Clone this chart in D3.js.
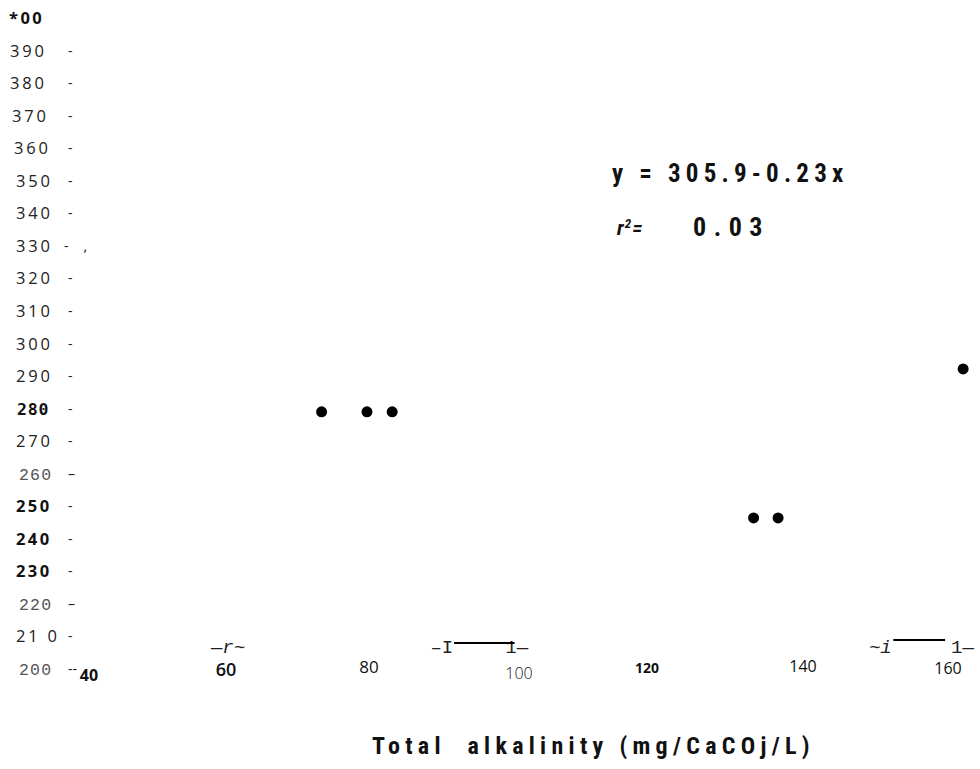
<!DOCTYPE html>
<html>
<head>
<meta charset="utf-8">
<script src="https://cdn.jsdelivr.net/npm/d3@7"></script>
<style>
  body { margin: 0; background: #fff; }
  svg { display: block; }
</style>
</head>
<body>
<svg id="chart" width="980" height="769"></svg>
<script>
// data
const alkalinity = [73, 79.3, 82.8, 133, 136.4, 162.1];
const colourIndex = [279, 279, 279, 246.4, 246.4, 292.2];

const yTickValues = [400, 390, 380, 370, 360, 350, 340, 330, 320, 310, 300,
  290, 280, 270, 260, 250, 240, 230, 220, 210, 200];
const yTickLabels = ['*00', '390', '380', '370', '360', '350', '340', '330', '320', '310', '300',
  '290', '280', '270', '260', '250', '240', '230', '220', '21\u00a00', '200'];
const yTickMarks = ['', '-', '-', '-', '-', '-', '-', '-\u00a0\u00a0\u00a0,', '-', '-', '-',
  '-', '-', '-', '–', '-', '-', '-', '–', '-', '--'];

const xTickValues = [40, 60, 80, 100, 120, 140, 160];
const xTickLabels = ['40', '60', '80', '100', '120', '140', '160'];

const fitLine = 'y\u00a0=\u00a0305.9-0.23x';
const fitR2 = '0.03';
const xTitle = 'Total\u00a0\u00a0alkalinity (mg/CaCOj/L)';

// scanning noise near the x axis
const noiseText = [
  { t: '—r~', x: 60 },
  { t: '–I', x: 89.7 },
  { t: '1—', x: 100.1 },
  { t: '~i', x: 150.6 },
  { t: '1—', x: 162 }
];
const noiseBars = [[91.4, 99.8], [152.4, 159.6]];

const svg = d3.select('#chart');

const x = d3.scaleLinear().domain([40, 160]).range([84, 948]);
const y = d3.scaleLinear().domain([200, 400]).range([669, 18]);

const sans = '"Open Sans", "Noto Sans", sans-serif';
const mono = '"DejaVu Sans Mono", monospace';
const thin = '"Liberation Mono", monospace';
const narrow = '"Liberation Sans Narrow", "Roboto Condensed", "Liberation Sans", sans-serif';

// per-label look of the y tick text (scan is inconsistent)
function yStyle(i) {
  const v = yTickValues[i];
  if (v === 260 || v === 220 || v === 200) return { f: thin, w: 400, c: '#555', dx: 19, ls: 1.2 };
  if (v === 280) return { f: mono, w: 700, c: '#111', dx: 17, ls: 0.8 };
  if (v === 250 || v === 240 || v === 230 || v === 400) return { f: sans, w: 700, c: '#111', dx: v === 400 ? 9 : 16, ls: 2.4 };
  const dx = v >= 380 ? 10 : v >= 370 ? 12 : v >= 360 ? 14 : 16;
  return { f: sans, w: 500, c: '#222', dx: dx, ls: 2.8 };
}

const yAxis = svg.append('g');
yAxis.selectAll('text.num')
  .data(yTickValues)
  .join('text')
  .attr('class', 'num')
  .attr('x', (d, i) => yStyle(i).dx)
  .attr('y', d => y(d) + 6)
  .attr('font-family', (d, i) => yStyle(i).f)
  .attr('font-weight', (d, i) => yStyle(i).w)
  .attr('fill', (d, i) => yStyle(i).c)
  .attr('letter-spacing', (d, i) => yStyle(i).ls)
  .attr('font-size', 16.5)
  .text((d, i) => yTickLabels[i]);

yAxis.selectAll('text.tick')
  .data(yTickValues)
  .join('text')
  .attr('class', 'tick')
  .attr('x', (d, i) => yTickValues[i] === 330 ? 64 : 68)
  .attr('y', d => y(d) + 5)
  .attr('font-family', sans)
  .attr('font-size', 14)
  .attr('letter-spacing', (d, i) => yTickMarks[i] === '--' ? 0 : 1)
  .attr('fill', '#222')
  .text((d, i) => yTickMarks[i]);

// x tick labels
const xSize = [16, 18, 17, 16, 14, 16, 16];
const xWeight = [700, 600, 400, 300, 700, 400, 400];
const xDy = [675, 670, 667, 673, 667, 666, 668];
const xNudge = [5, -2, -3, 3, -13, -1, 0];
svg.append('g').selectAll('text')
  .data(xTickValues)
  .join('text')
  .attr('x', (d, i) => x(d) + xNudge[i])
  .attr('y', (d, i) => xDy[i] + 6)
  .attr('text-anchor', 'middle')
  .attr('font-family', sans)
  .attr('font-size', (d, i) => xSize[i])
  .attr('font-weight', (d, i) => xWeight[i])
  .attr('fill', '#111')
  .text((d, i) => xTickLabels[i]);

// noise
svg.append('g').selectAll('text')
  .data(noiseText)
  .join('text')
  .attr('x', d => x(d.x))
  .attr('y', 653)
  .attr('text-anchor', 'middle')
  .attr('font-family', thin)
  .attr('font-style', (d, i) => (i === 0 || i === 3) ? 'italic' : 'normal')
  .attr('font-size', 19)
  .attr('fill', '#222')
  .text(d => d.t);

svg.append('g').selectAll('line')
  .data(noiseBars)
  .join('line')
  .attr('x1', d => x(d[0]))
  .attr('x2', d => x(d[1]))
  .attr('y1', (d, i) => i === 0 ? 643 : 640)
  .attr('y2', (d, i) => i === 0 ? 643 : 640)
  .attr('stroke', '#000')
  .attr('stroke-width', 2);

// points
svg.append('g').selectAll('circle')
  .data(alkalinity)
  .join('circle')
  .attr('cx', d => x(d))
  .attr('cy', (d, i) => y(colourIndex[i]))
  .attr('r', 5.5)
  .attr('fill', '#000');

// regression text
svg.append('text')
  .attr('x', 612)
  .attr('y', 182)
  .attr('font-family', narrow)
  .attr('font-weight', 700)
  .attr('font-size', 25)
  .attr('letter-spacing', 5.2)
  .attr('fill', '#111')
  .text(fitLine);

const r2 = svg.append('text')
  .attr('x', 617)
  .attr('y', 235)
  .attr('font-family', narrow)
  .attr('font-weight', 700)
  .attr('font-style', 'italic')
  .attr('font-size', 21)
  .attr('letter-spacing', 1)
  .attr('fill', '#111');
r2.append('tspan').text('r');
r2.append('tspan').attr('font-size', 13).attr('dy', -7).text('2');
r2.append('tspan').attr('dy', 7).text('=');

svg.append('text')
  .attr('x', 693)
  .attr('y', 236)
  .attr('font-family', narrow)
  .attr('font-weight', 700)
  .attr('font-size', 26)
  .attr('letter-spacing', 7.5)
  .attr('fill', '#111')
  .text(fitR2);

// x-axis title
svg.append('text')
  .attr('x', 372)
  .attr('y', 754)
  .attr('font-family', narrow)
  .attr('font-weight', 700)
  .attr('font-size', 24)
  .attr('letter-spacing', 5.3)
  .attr('fill', '#111')
  .text(xTitle);
</script>
</body>
</html>
